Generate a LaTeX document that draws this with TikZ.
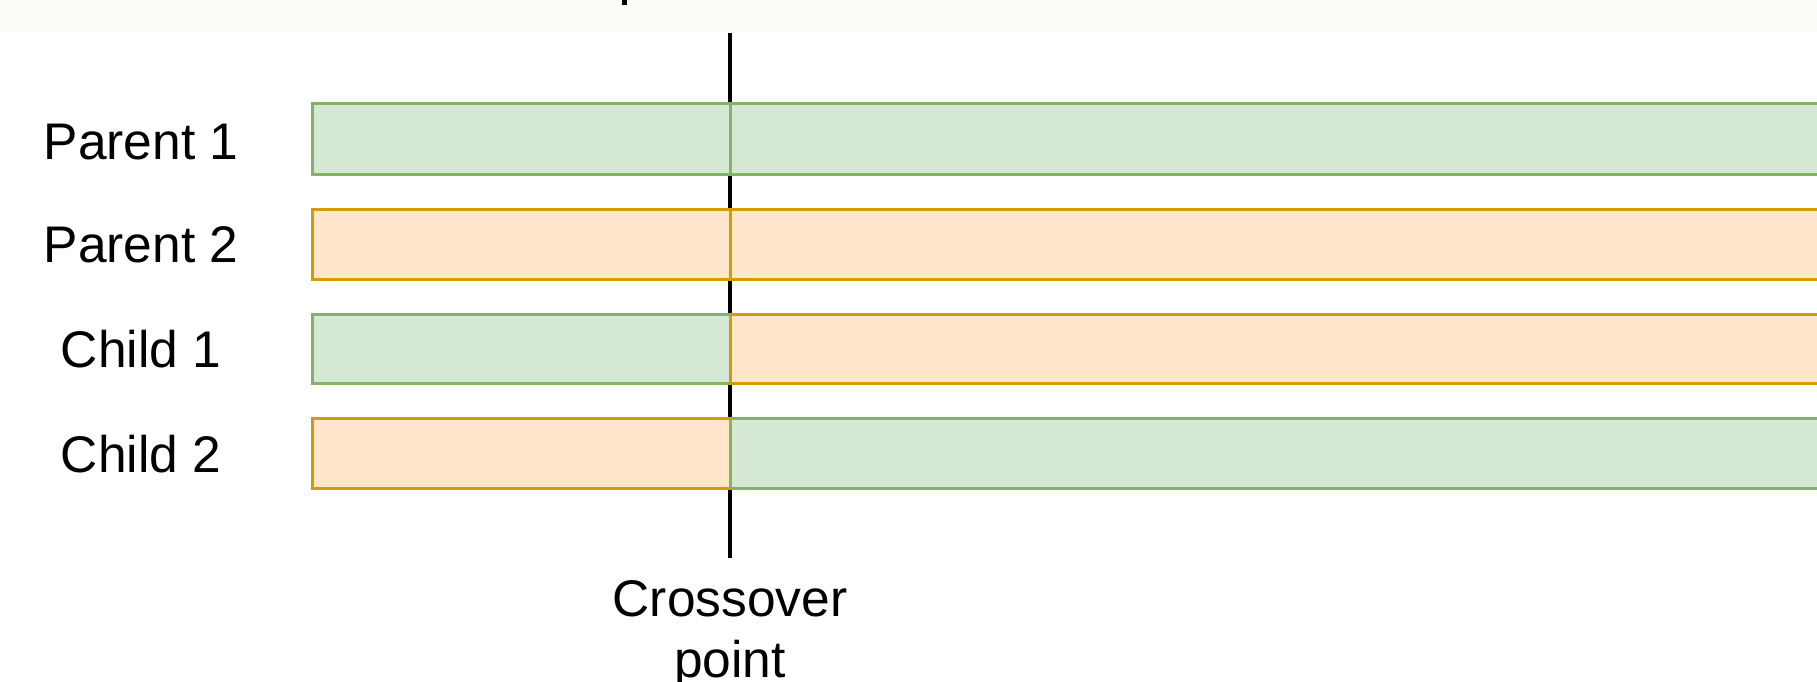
\documentclass[tikz,border=0pt]{standalone}
\usepackage{fontspec}
\setmainfont{Liberation Sans}
\definecolor{greenfill}{HTML}{D5E8D4}
\definecolor{greenline}{HTML}{82B366}
\definecolor{orangefill}{HTML}{FFE6CC}
\definecolor{orangeline}{HTML}{D79B00}
\definecolor{headerbg}{HTML}{FEFCF8}
\begin{document}
\begin{tikzpicture}[x=1pt,y=-1pt,
  gene/.style={line width=3pt},
  greenseg/.style={gene,draw=greenline,fill=greenfill},
  orangeseg/.style={gene,draw=orangeline,fill=orangefill},
  rowlabel/.style={anchor=base,font=\fontsize{51.5}{61}\selectfont,inner sep=0pt},
  cutline/.style={line width=3.2pt,black}]
\useasboundingbox (0,0) rectangle (1817,682);
\clip (0,0) rectangle (1817,682);
\fill[white] (0,0) rectangle (1817,682);
% header strip with the tail of a cut-off title glyph
\fill[headerbg] (0,0) rectangle (1817,33);
\fill[black] (622,0) rectangle (627,5);
% crossover marker
\coordinate (cuttop) at (730,33);
\coordinate (cutbot) at (730,558);
\draw[cutline] (cuttop) -- (cutbot);
% chromosomes: left segment | right segment
\path[greenseg]  (312,104) rectangle (730,174);
\path[greenseg]  (730,104) rectangle (1830,174);
\path[orangeseg] (312,209) rectangle (730,279);
\path[orangeseg] (730,209) rectangle (1830,279);
\path[greenseg]  (312,314) rectangle (730,383);
\path[orangeseg] (730,314) rectangle (1830,383);
\path[orangeseg] (312,418) rectangle (730,488);
\path[greenseg]  (730,418) rectangle (1830,488);
% row labels
\node[rowlabel] (p1) at (141,159) {Parent 1};
\node[rowlabel] (p2) at (141,262) {Parent 2};
\node[rowlabel] (c1) at (141,367) {Child 1};
\node[rowlabel] (c2) at (141,472) {Child 2};
% multi-line node: base anchor sits on the last line
\node[rowlabel,align=center] (cp) at (730,677) {Crossover\\point};
\end{tikzpicture}
\end{document}
